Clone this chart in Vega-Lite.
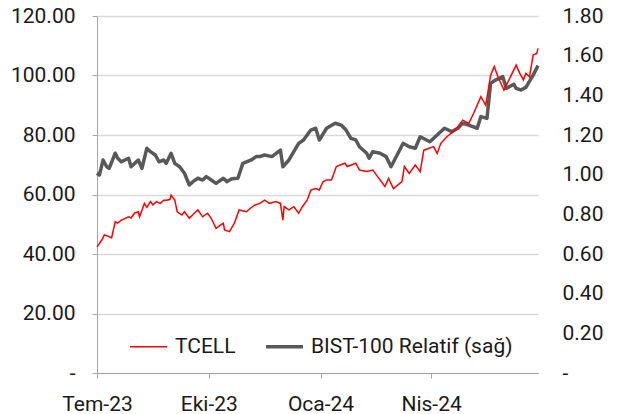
{
  "$schema": "https://vega.github.io/schema/vega-lite/v6.json",
  "width": 441,
  "height": 357,
  "autosize": "none",
  "padding": {"left": 97, "top": 16, "right": 81, "bottom": 41},
  "background": "white",
  "config": {
    "view": {"stroke": null},
    "font": "Roboto",
    "axis": {"labelFont": "Roboto", "labelFontSize": 21, "labelColor": "#1a1a1a", "zindex": 0}
  },
  "datasets": {
    "tcell": [
      {"date": "2023-07-01", "v": 42.4}, {"date": "2023-07-05", "v": 44.7}, {"date": "2023-07-07", "v": 46.4},
      {"date": "2023-07-10", "v": 46.0}, {"date": "2023-07-13", "v": 45.4}, {"date": "2023-07-16", "v": 50.9},
      {"date": "2023-07-18", "v": 50.4}, {"date": "2023-07-21", "v": 51.4}, {"date": "2023-07-27", "v": 52.5},
      {"date": "2023-07-29", "v": 52.1}, {"date": "2023-08-01", "v": 53.8}, {"date": "2023-08-04", "v": 54.2},
      {"date": "2023-08-05", "v": 52.5}, {"date": "2023-08-09", "v": 57.0}, {"date": "2023-08-11", "v": 55.7},
      {"date": "2023-08-14", "v": 57.6}, {"date": "2023-08-16", "v": 56.5}, {"date": "2023-08-19", "v": 57.6},
      {"date": "2023-08-22", "v": 57.0}, {"date": "2023-08-25", "v": 58.1}, {"date": "2023-08-27", "v": 58.1},
      {"date": "2023-08-30", "v": 58.3}, {"date": "2023-08-31", "v": 59.8}, {"date": "2023-09-03", "v": 58.1},
      {"date": "2023-09-05", "v": 54.2}, {"date": "2023-09-09", "v": 53.1}, {"date": "2023-09-11", "v": 54.2},
      {"date": "2023-09-15", "v": 52.0}, {"date": "2023-09-19", "v": 53.7}, {"date": "2023-09-22", "v": 54.8},
      {"date": "2023-09-26", "v": 52.5}, {"date": "2023-09-30", "v": 53.7}, {"date": "2023-10-03", "v": 52.0},
      {"date": "2023-10-07", "v": 48.6}, {"date": "2023-10-10", "v": 49.5}, {"date": "2023-10-13", "v": 50.3},
      {"date": "2023-10-14", "v": 48.1}, {"date": "2023-10-18", "v": 47.5}, {"date": "2023-10-22", "v": 50.3},
      {"date": "2023-10-26", "v": 54.8}, {"date": "2023-11-01", "v": 54.2}, {"date": "2023-11-04", "v": 55.3},
      {"date": "2023-11-08", "v": 56.5}, {"date": "2023-11-12", "v": 57.0}, {"date": "2023-11-16", "v": 58.1},
      {"date": "2023-11-20", "v": 57.0}, {"date": "2023-11-25", "v": 57.6}, {"date": "2023-11-29", "v": 57.0},
      {"date": "2023-12-01", "v": 51.4}, {"date": "2023-12-02", "v": 55.9}, {"date": "2023-12-06", "v": 54.8},
      {"date": "2023-12-10", "v": 55.9}, {"date": "2023-12-14", "v": 53.7}, {"date": "2023-12-17", "v": 55.9},
      {"date": "2023-12-21", "v": 58.1}, {"date": "2023-12-24", "v": 61.5}, {"date": "2023-12-28", "v": 62.0},
      {"date": "2023-12-31", "v": 61.5}, {"date": "2024-01-03", "v": 64.3}, {"date": "2024-01-06", "v": 64.9},
      {"date": "2024-01-10", "v": 64.9}, {"date": "2024-01-14", "v": 69.4}, {"date": "2024-01-21", "v": 70.5},
      {"date": "2024-01-23", "v": 69.4}, {"date": "2024-01-30", "v": 70.5}, {"date": "2024-02-02", "v": 68.2},
      {"date": "2024-02-08", "v": 67.7}, {"date": "2024-02-13", "v": 68.2}, {"date": "2024-02-17", "v": 66.0},
      {"date": "2024-02-23", "v": 62.7}, {"date": "2024-02-26", "v": 65.4}, {"date": "2024-03-01", "v": 62.0},
      {"date": "2024-03-08", "v": 64.3}, {"date": "2024-03-10", "v": 69.4}, {"date": "2024-03-14", "v": 67.1},
      {"date": "2024-03-19", "v": 69.9}, {"date": "2024-03-23", "v": 67.7}, {"date": "2024-03-26", "v": 74.9},
      {"date": "2024-04-03", "v": 76.1}, {"date": "2024-04-06", "v": 73.8}, {"date": "2024-04-09", "v": 77.2},
      {"date": "2024-04-14", "v": 79.4}, {"date": "2024-04-21", "v": 81.7}, {"date": "2024-04-27", "v": 85.0},
      {"date": "2024-05-02", "v": 83.9}, {"date": "2024-05-06", "v": 87.3}, {"date": "2024-05-12", "v": 92.9},
      {"date": "2024-05-16", "v": 90.0}, {"date": "2024-05-20", "v": 100.2}, {"date": "2024-05-23", "v": 103.0},
      {"date": "2024-05-26", "v": 99.6}, {"date": "2024-05-31", "v": 95.1}, {"date": "2024-06-10", "v": 103.5},
      {"date": "2024-06-13", "v": 100.7}, {"date": "2024-06-16", "v": 98.5}, {"date": "2024-06-18", "v": 100.7},
      {"date": "2024-06-21", "v": 99.6}, {"date": "2024-06-24", "v": 106.9}, {"date": "2024-06-27", "v": 107.4},
      {"date": "2024-06-28", "v": 109.1}
    ],
    "bist": [
      {"date": "2023-07-01", "r": 1.007}, {"date": "2023-07-03", "r": 0.998}, {"date": "2023-07-06", "r": 1.074},
      {"date": "2023-07-09", "r": 1.040}, {"date": "2023-07-11", "r": 1.032}, {"date": "2023-07-16", "r": 1.108},
      {"date": "2023-07-18", "r": 1.083}, {"date": "2023-07-21", "r": 1.065}, {"date": "2023-07-27", "r": 1.083},
      {"date": "2023-07-29", "r": 1.040}, {"date": "2023-08-01", "r": 1.057}, {"date": "2023-08-04", "r": 1.074},
      {"date": "2023-08-07", "r": 1.032}, {"date": "2023-08-11", "r": 1.133}, {"date": "2023-08-14", "r": 1.116},
      {"date": "2023-08-18", "r": 1.099}, {"date": "2023-08-21", "r": 1.065}, {"date": "2023-08-25", "r": 1.074},
      {"date": "2023-08-27", "r": 1.057}, {"date": "2023-08-31", "r": 1.108}, {"date": "2023-09-03", "r": 1.057},
      {"date": "2023-09-07", "r": 1.040}, {"date": "2023-09-11", "r": 1.007}, {"date": "2023-09-15", "r": 0.948},
      {"date": "2023-09-18", "r": 0.965}, {"date": "2023-09-22", "r": 0.982}, {"date": "2023-09-26", "r": 0.973},
      {"date": "2023-09-29", "r": 0.990}, {"date": "2023-10-03", "r": 0.973}, {"date": "2023-10-07", "r": 0.956},
      {"date": "2023-10-13", "r": 0.982}, {"date": "2023-10-16", "r": 0.965}, {"date": "2023-10-20", "r": 0.980},
      {"date": "2023-10-25", "r": 0.982}, {"date": "2023-10-29", "r": 1.057}, {"date": "2023-11-05", "r": 1.074},
      {"date": "2023-11-09", "r": 1.091}, {"date": "2023-11-12", "r": 1.091}, {"date": "2023-11-16", "r": 1.099},
      {"date": "2023-11-22", "r": 1.091}, {"date": "2023-11-29", "r": 1.124}, {"date": "2023-12-01", "r": 1.040},
      {"date": "2023-12-06", "r": 1.074}, {"date": "2023-12-10", "r": 1.116}, {"date": "2023-12-14", "r": 1.158},
      {"date": "2023-12-18", "r": 1.175}, {"date": "2023-12-24", "r": 1.225}, {"date": "2023-12-28", "r": 1.234},
      {"date": "2023-12-31", "r": 1.175}, {"date": "2024-01-06", "r": 1.234}, {"date": "2024-01-13", "r": 1.259},
      {"date": "2024-01-18", "r": 1.250}, {"date": "2024-01-22", "r": 1.225}, {"date": "2024-01-26", "r": 1.183},
      {"date": "2024-01-30", "r": 1.175}, {"date": "2024-02-02", "r": 1.141}, {"date": "2024-02-08", "r": 1.108},
      {"date": "2024-02-10", "r": 1.083}, {"date": "2024-02-13", "r": 1.116}, {"date": "2024-02-19", "r": 1.108},
      {"date": "2024-02-24", "r": 1.091}, {"date": "2024-02-28", "r": 1.040}, {"date": "2024-03-04", "r": 1.099},
      {"date": "2024-03-09", "r": 1.158}, {"date": "2024-03-14", "r": 1.141}, {"date": "2024-03-19", "r": 1.133},
      {"date": "2024-03-23", "r": 1.191}, {"date": "2024-03-31", "r": 1.166}, {"date": "2024-04-06", "r": 1.200},
      {"date": "2024-04-12", "r": 1.234}, {"date": "2024-04-18", "r": 1.217}, {"date": "2024-04-23", "r": 1.234},
      {"date": "2024-04-27", "r": 1.259}, {"date": "2024-05-02", "r": 1.250}, {"date": "2024-05-09", "r": 1.234},
      {"date": "2024-05-12", "r": 1.293}, {"date": "2024-05-17", "r": 1.284}, {"date": "2024-05-20", "r": 1.460},
      {"date": "2024-05-24", "r": 1.477}, {"date": "2024-05-30", "r": 1.494}, {"date": "2024-06-02", "r": 1.435},
      {"date": "2024-06-08", "r": 1.456}, {"date": "2024-06-10", "r": 1.435}, {"date": "2024-06-14", "r": 1.427},
      {"date": "2024-06-18", "r": 1.440}, {"date": "2024-06-24", "r": 1.502}, {"date": "2024-06-28", "r": 1.550}
    ]
  },
  "layer": [
    {
      "data": {"name": "bist"},
      "mark": {"type": "line", "strokeWidth": 3.5, "strokeJoin": "round"},
      "encoding": {
        "x": {"field": "date", "type": "temporal",
          "scale": {"domain": [{"year": 2023, "month": 7, "date": 1}, {"year": 2024, "month": 6, "date": 28}]},
          "axis": {"title": null, "orient": "bottom", "grid": false,
            "values": [{"year": 2023, "month": 7, "date": 1}, {"year": 2023, "month": 10, "date": 1}, {"year": 2024, "month": 1, "date": 1}, {"year": 2024, "month": 4, "date": 1}],
            "labelExpr": "['Oca','Şub','Mar','Nis','May','Haz','Tem','Ağu','Eyl','Eki','Kas','Ara'][month(datum.value)] + '-' + timeFormat(datum.value, '%y')",
            "domainColor": "#a6a6a6", "tickColor": "#a6a6a6", "tickSize": 5, "labelPadding": 15, "labelFlush": false}},
        "y": {"field": "r", "type": "quantitative",
          "scale": {"domain": [0, 1.8], "nice": false, "zero": true},
          "axis": {"title": null, "orient": "right", "grid": false, "domain": false, "ticks": false,
            "values": [0, 0.2, 0.4, 0.6, 0.8, 1.0, 1.2, 1.4, 1.6, 1.8],
            "labelExpr": "datum.value == 0 ? ' -' : format(datum.value, '.2f')",
            "labelPadding": 24}},
        "color": {"datum": "BIST-100 Relatif (sağ)", "type": "nominal",
          "scale": {"domain": ["TCELL", "BIST-100 Relatif (sağ)"], "range": ["#ff0000", "#595959"]},
          "legend": {"title": null, "orient": "none", "legendX": 41, "legendY": 320, "direction": "horizontal",
            "symbolType": "stroke", "symbolSize": 1369, "symbolStrokeWidth": 2, "labelFont": "Roboto", "labelFontSize": 21,
            "labelColor": "#1a1a1a", "labelOffset": 16, "columnPadding": 23, "labelLimit": 400,
            "encode": {"symbols": {"update": {"strokeWidth": {"signal": "datum.label == 'TCELL' ? 1.5 : 3.5"}}}}}}
      }
    },
    {
      "data": {"name": "tcell"},
      "mark": {"type": "line", "strokeWidth": 1.5},
      "encoding": {
        "x": {"field": "date", "type": "temporal"},
        "y": {"field": "v", "type": "quantitative",
          "scale": {"domain": [0, 120], "nice": false},
          "axis": {"title": null, "orient": "left", "grid": true, "gridColor": "#d9d9d9", "gridWidth": 1.5,
            "values": [0, 20, 40, 60, 80, 100, 120],
            "labelExpr": "datum.value == 0 ? '-' : format(datum.value, '.2f')",
            "domainColor": "#a6a6a6", "tickColor": "#a6a6a6", "tickSize": 5, "labelPadding": 17}},
        "color": {"datum": "TCELL", "type": "nominal"}
      }
    }
  ],
  "resolve": {"scale": {"y": "independent"}}
}
